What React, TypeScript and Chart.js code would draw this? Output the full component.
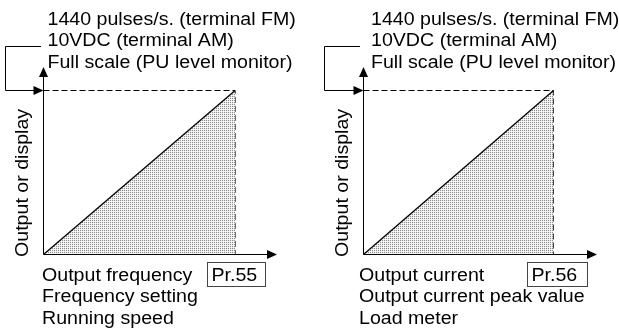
import React, { useEffect, useRef } from "react";
import { Chart, registerables } from "chart.js";

Chart.register(...registerables);

// ---- data ----
const diagonalX = [0, 100];
const diagonalY = [0, 100];
const fullScaleX = [0, 100, 100];
const fullScaleY = [100, 100, 0];

const yAxisTitle = "Output or display";
const topLines = ["1440 pulses/s. (terminal FM)", "10VDC (terminal AM)", "Full scale (PU level monitor)"];
const leftBottomLines = ["Output frequency", "Frequency setting", "Running speed"];
const rightBottomLines = ["Output current", "Output current peak value", "Load meter"];
const leftParam = "Pr.55";
const rightParam = "Pr.56";

const FONT = '17.5px "Liberation Sans", Arial, sans-serif';
const STRETCH = 1.12;
const LINE_H = 21.7;

function makePattern(): CanvasPattern | string {
  const c = document.createElement("canvas");
  c.width = 2;
  c.height = 2;
  const g = c.getContext("2d");
  if (!g) return "#d0d0d0";
  g.fillStyle = "#ececec";
  g.fillRect(0, 0, 2, 2);
  g.fillStyle = "#ffffff";
  g.fillRect(1, 1, 1, 1);
  g.fillStyle = "#8a8a8a";
  g.fillRect(0, 0, 1, 1);
  const ref = document.createElement("canvas").getContext("2d");
  return (ref && ref.createPattern(c, "repeat")) || "#d0d0d0";
}

function txt(ctx: CanvasRenderingContext2D, t: string, x: number, y: number, rot = 0) {
  ctx.save();
  ctx.translate(x, y);
  if (rot) ctx.rotate(rot);
  ctx.scale(STRETCH, 1);
  ctx.fillText(t, 0, 0);
  ctx.restore();
}

function arrowHead(ctx: CanvasRenderingContext2D, tx: number, ty: number, dir: "up" | "right") {
  ctx.beginPath();
  if (dir === "up") {
    ctx.moveTo(tx, ty);
    ctx.lineTo(tx - 4.5, ty + 10);
    ctx.lineTo(tx + 4.5, ty + 10);
  } else {
    ctx.moveTo(tx, ty);
    ctx.lineTo(tx - 10, ty - 4.5);
    ctx.lineTo(tx - 10, ty + 4.5);
  }
  ctx.closePath();
  ctx.fill();
}

type PanelCfg = {
  left: number;
  width: number;
  padding: { left: number; right: number; top: number; bottom: number };
  xMax: number;
  yMax: number;
  bottomLines: string[];
  param: string;
  topTextX: number;
  bottomTextX: number;
  paramX: number;
  box: [number, number, number, number];
  yTitleX: number;
  bracketX: number;
  bracketTopEnd: number;
};

const panels: PanelCfg[] = [
  {
    left: 0,
    width: 310,
    padding: { left: 43.5, right: 33, top: 67, bottom: 76.5 },
    xMax: 121.875,
    yMax: 114.33,
    bottomLines: leftBottomLines,
    param: leftParam,
    topTextX: 47.5,
    bottomTextX: 42,
    paramX: 211.5,
    box: [207.5, 262.5, 58, 24],
    yTitleX: 28,
    bracketX: 5.5,
    bracketTopEnd: 41,
  },
  {
    left: 310,
    width: 309,
    padding: { left: 53.5, right: 22, top: 67, bottom: 76.5 },
    xMax: 122.9,
    yMax: 114.33,
    bottomLines: rightBottomLines,
    param: rightParam,
    topTextX: 61,
    bottomTextX: 49,
    paramX: 221.5,
    box: [217.5, 262.5, 60, 24],
    yTitleX: 38,
    bracketX: 14.5,
    bracketTopEnd: 50,
  },
];

function Panel({ cfg }: { cfg: PanelCfg }) {
  const ref = useRef<HTMLCanvasElement>(null);
  useEffect(() => {
    if (!ref.current) return;
    const decor = {
      id: "decor",
      afterDatasetsDraw(chart: any) {
        const ctx: CanvasRenderingContext2D = chart.ctx;
        const xs = chart.scales.x;
        const ys = chart.scales.y;
        const x0 = xs.getPixelForValue(0);
        const y0 = ys.getPixelForValue(0);
        const yFull = ys.getPixelForValue(100);
        const xEnd = chart.chartArea.right;
        const yEnd = chart.chartArea.top;
        ctx.save();
        ctx.strokeStyle = "#000";
        ctx.fillStyle = "#000";
        ctx.lineWidth = 1;
        ctx.setLineDash([]);
        // axes
        ctx.beginPath();
        ctx.moveTo(x0, y0);
        ctx.lineTo(x0, yEnd + 8);
        ctx.moveTo(x0, y0);
        ctx.lineTo(xEnd - 8, y0);
        ctx.stroke();
        arrowHead(ctx, x0, yEnd, "up");
        arrowHead(ctx, xEnd, y0, "right");
        // bracket
        const bTop = 46.5;
        ctx.beginPath();
        ctx.moveTo(cfg.bracketTopEnd, bTop);
        ctx.lineTo(cfg.bracketX, bTop);
        ctx.lineTo(cfg.bracketX, yFull);
        ctx.lineTo(x0 - 8, yFull);
        ctx.stroke();
        arrowHead(ctx, x0, yFull, "right");
        // texts
        ctx.font = FONT;
        ctx.textAlign = "left";
        ctx.textBaseline = "alphabetic";
        ctx.fillStyle = "#000";
        topLines.forEach((t, i) => txt(ctx, t, cfg.topTextX, 24.5 + i * LINE_H));
        cfg.bottomLines.forEach((t, i) => txt(ctx, t, cfg.bottomTextX, 280.5 + i * LINE_H));
        txt(ctx, cfg.param, cfg.paramX, 280.5);
        txt(ctx, yAxisTitle, cfg.yTitleX, 257, -Math.PI / 2);
        ctx.strokeStyle = "#444";
        const [bx, by, bw, bh] = cfg.box;
        ctx.strokeRect(bx, by, bw, bh);
        ctx.restore();
      },
    };
    const pattern = makePattern();
    const chart = new Chart(ref.current, {
      type: "scatter",
      data: {
        datasets: [
          {
            data: diagonalX.map((x, i) => ({ x, y: diagonalY[i] })),
            showLine: true,
            borderColor: "#000",
            borderWidth: 1.3,
            backgroundColor: pattern as any,
            fill: "origin",
            pointRadius: 0,
          },
          {
            data: fullScaleX.map((x, i) => ({ x, y: fullScaleY[i] })),
            showLine: true,
            borderColor: "#000",
            borderWidth: 1,
            borderDash: [6, 3],
            fill: false,
            pointRadius: 0,
          },
        ],
      },
      options: {
        responsive: false,
        animation: false,
        events: [],
        layout: { padding: cfg.padding },
        plugins: { legend: { display: false }, tooltip: { enabled: false } },
        scales: {
          x: { type: "linear", min: 0, max: cfg.xMax, display: false },
          y: { type: "linear", min: 0, max: cfg.yMax, display: false },
        },
      },
      plugins: [decor],
    });
    return () => chart.destroy();
  }, [cfg]);
  return (
    <canvas
      ref={ref}
      width={cfg.width}
      height={331}
      style={{ position: "absolute", left: cfg.left, top: 0, width: cfg.width, height: 331 }}
    />
  );
}

export default function App() {
  return (
    <div style={{ position: "absolute", left: 0, top: 0, width: 619, height: 331, background: "#fff", overflow: "hidden" }}>
      {panels.map((p, i) => (
        <Panel key={i} cfg={p} />
      ))}
    </div>
  );
}
